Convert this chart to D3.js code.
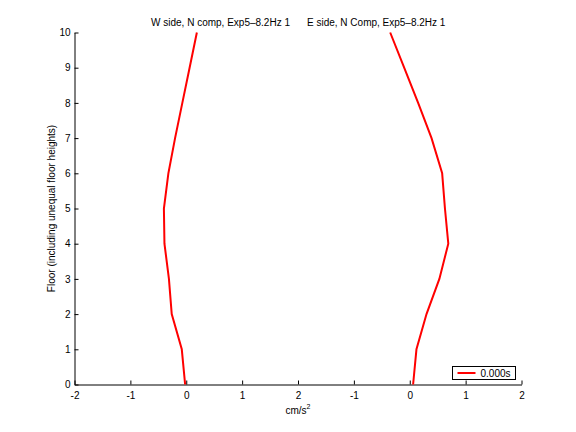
<!DOCTYPE html>
<html>
<head>
<meta charset="utf-8">
<script src="https://cdn.jsdelivr.net/npm/d3@7"></script>
<style>
    body { margin: 0; background: #fff; }
    text { font-family: "Liberation Sans", Arial, sans-serif; font-size: 10px; fill: #000; }
    .domain, .tick line { stroke: #000; }
</style>
</head>
<body>
<div id="chart"></div>
<script>
// floors (y) and accelerations in cm/s^2
var floors = [0, 1, 2, 3, 4, 5, 6, 7, 8, 9, 10];
var westN = [-0.02, -0.08, -0.26, -0.31, -0.39, -0.40, -0.32, -0.20, -0.07, 0.06, 0.19];
var eastN = [0.06, 0.12, 0.30, 0.53, 0.69, 0.63, 0.58, 0.39, 0.15, -0.10, -0.35];
var leftTicks = [-2, -1, 0, 1, 2];
var rightTicks = [-1, 0, 1, 2];
var yTicks = [0, 1, 2, 3, 4, 5, 6, 7, 8, 9, 10];
var titles = ["W side, N comp, Exp5\u20138.2Hz 1", "E side, N Comp, Exp5\u20138.2Hz 1"];
var legendLabel = "0.000s";

var W = 576, H = 432;
var axL = 74.5, axM = 298, axR = 521.5, axT = 32.5, axB = 384.5;

var svg = d3.select("#chart").append("svg")
    .attr("width", W)
    .attr("height", H);

var xL = d3.scaleLinear().domain([-2, 2]).range([axL, axM]);
var xR = d3.scaleLinear().domain([-2, 2]).range([axM, axR]);
var y = d3.scaleLinear().domain([0, 10]).range([axB, axT]);

svg.append("g")
    .attr("transform", "translate(0," + axB + ")")
    .call(d3.axisBottom(xL).tickValues(leftTicks).tickSizeInner(-4).tickSizeOuter(0)
        .tickPadding(7).tickFormat(function (d) { return String(d); }));

svg.append("g")
    .attr("transform", "translate(0," + axB + ")")
    .call(d3.axisBottom(xR).tickValues(rightTicks).tickSizeInner(-4).tickSizeOuter(0)
        .tickPadding(7).tickFormat(function (d) { return String(d); }));

svg.append("g")
    .attr("transform", "translate(" + axL + ",0)")
    .call(d3.axisLeft(y).tickValues(yTicks).tickSizeInner(-4).tickSizeOuter(0)
        .tickPadding(4));

svg.selectAll(".tick text").style("font-size", "10px").style("font-family", "Liberation Sans, Arial, sans-serif");

var lineL = d3.line()
    .x(function (d, i) { return xL(westN[i]); })
    .y(function (d) { return y(d); });

var lineR = d3.line()
    .x(function (d, i) { return xR(eastN[i]); })
    .y(function (d) { return y(d); });

svg.append("path")
    .datum(floors)
    .attr("fill", "none")
    .attr("stroke", "#ff0000")
    .attr("stroke-width", 2)
    .attr("d", lineL);

svg.append("path")
    .datum(floors)
    .attr("fill", "none")
    .attr("stroke", "#ff0000")
    .attr("stroke-width", 2)
    .attr("d", lineR);

// one title line, split around the middle
svg.append("text")
    .attr("x", axM - 8)
    .attr("y", 26)
    .attr("text-anchor", "end")
    .text(titles[0]);

svg.append("text")
    .attr("x", axM + 9)
    .attr("y", 26)
    .attr("text-anchor", "start")
    .text(titles[1]);

// axis labels
var xlab = svg.append("text")
    .attr("x", axM)
    .attr("y", 414)
    .attr("text-anchor", "middle")
    .text("cm/s");
xlab.append("tspan")
    .attr("dy", -5)
    .style("font-size", "7px")
    .text("2");

svg.append("text")
    .attr("transform", "translate(55," + ((axT + axB) / 2) + ") rotate(-90)")
    .attr("text-anchor", "middle")
    .text("Floor (including unequal floor heights)");

// legend
var lg = svg.append("g").attr("transform", "translate(452.5,366.5)");
lg.append("rect")
    .attr("width", 63)
    .attr("height", 13)
    .attr("fill", "#fff")
    .attr("stroke", "#000");
lg.append("line")
    .attr("x1", 5).attr("x2", 23)
    .attr("y1", 6.5).attr("y2", 6.5)
    .attr("stroke", "#ff0000")
    .attr("stroke-width", 2);
lg.append("text")
    .attr("x", 28)
    .attr("y", 10.5)
    .text(legendLabel);
</script>
</body>
</html>
